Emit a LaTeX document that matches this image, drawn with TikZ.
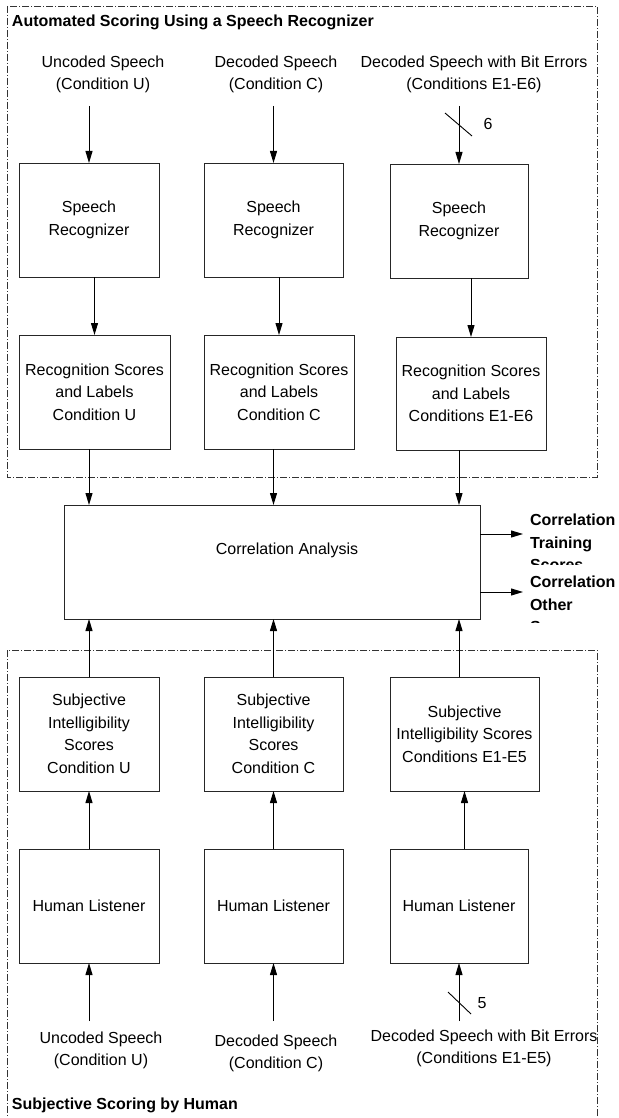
\documentclass[tikz,border=0pt]{standalone}
\usepackage{fontspec}
\setmainfont{Liberation Sans}
\usetikzlibrary{arrows.meta}
\begin{document}
\begin{tikzpicture}[x=1pt,y=-1pt,
  every node/.style={font=\fontsize{16}{22.5}\selectfont, inner sep=0pt, outer sep=0pt},
  blk/.style={draw=black!85, line width=0.9pt, align=center, minimum height=114pt},
  arr/.style={line width=1pt, -{Triangle[length=12pt,width=7pt]}},
  tick/.style={line width=0.9pt},
  dashbox/.style={draw=black!80, line width=0.6pt, dash pattern=on 7pt off 2pt on 1pt off 2pt},
  lbl/.style={align=center},
  ttl/.style={font=\fontsize{16}{20}\selectfont\bfseries, anchor=west},
  outlbl/.style={font=\fontsize{16}{22.5}\selectfont\bfseries, anchor=north west, align=left},
]
\clip (0,0) rectangle (618,1118);
\fill[white] (0,0) rectangle (618,1118);

% group frames
\draw[dashbox] (7,6) rectangle (597,477);
\draw[dashbox] (7,650) rectangle (597,1140);

\node[ttl] (t1) at (12,22) {Automated Scoring Using a Speech Recognizer};
\node[ttl] (t2) at (12,1105) {Subjective Scoring by Human};

% inputs (top)
\node[lbl] (in1) at (103,74.5) {Uncoded Speech\\(Condition U)};
\node[lbl] (in2) at (276,74.5) {Decoded Speech\\(Condition C)};
\node[lbl] (in3) at (474,74.5) {Decoded Speech with Bit Errors\\(Conditions E1-E6)};

% speech recognizers
\node[blk, minimum width=140pt] (sr1) at (89,220) {Speech\\Recognizer};
\node[blk, minimum width=139pt] (sr2) at (273.5,220) {Speech\\Recognizer};
\node[blk, minimum width=138pt] (sr3) at (459,221) {Speech\\Recognizer};

% recognition scores
\node[blk, minimum width=151pt] (rec1) at (94.5,392) {Recognition Scores\\and Labels\\Condition U};
\node[blk, minimum width=150pt] (rec2) at (279,392) {Recognition Scores\\and Labels\\Condition C};
\node[blk, minimum width=150pt, minimum height=113pt] (rec3) at (471,393.5) {Recognition Scores\\and Labels\\Conditions E1-E6};

% correlation analysis
\node[blk, minimum width=416pt] (corr) at (272,562) {};
\node (corrtxt) at (287,550) {Correlation Analysis};

% subjective scores
\node[blk, minimum width=140pt] (subj1) at (89,734) {Subjective\\Intelligibility\\Scores\\Condition U};
\node[blk, minimum width=139pt] (subj2) at (273.5,734) {Subjective\\Intelligibility\\Scores\\Condition C};
\node[blk, minimum width=149pt] (subj3) at (464.5,734) {Subjective\\Intelligibility Scores\\Conditions E1-E5};

% human listeners
\node[blk, minimum width=140pt] (hum1) at (89,906) {Human Listener};
\node[blk, minimum width=139pt] (hum2) at (273.5,906) {Human Listener};
\node[blk, minimum width=138pt] (hum3) at (459,906) {Human Listener};

% inputs (bottom)
\node[lbl] (bin1) at (101,1050.5) {Uncoded Speech\\(Condition U)};
\node[lbl] (bin2) at (276,1053.5) {Decoded Speech\\(Condition C)};
\node[lbl] (bin3) at (484,1048.5) {Decoded Speech with Bit Errors\\(Conditions E1-E5)};

% top input arrows
\coordinate (s1) at (89,106);
\coordinate (s2) at (273.5,106);
\coordinate (s3) at (459,106);
\draw[arr] (s1) -- (sr1.north);
\draw[arr] (s2) -- (sr2.north);
\draw[arr] (s3) -- (sr3.north);
\coordinate (k6a) at (445,113);
\coordinate (k6b) at (472,136);
\draw[tick] (k6a) -- (k6b);
\node (n6) at (488,124) {6};

% recognizer -> scores
\draw[arr] (rec1.north |- sr1.south) -- (rec1.north);
\draw[arr] (rec2.north |- sr2.south) -- (rec2.north);
\draw[arr] (rec3.north |- sr3.south) -- (rec3.north);

% scores -> correlation
\draw[arr] (sr1 |- rec1.south) -- (sr1 |- corr.north);
\draw[arr] (sr2 |- rec2.south) -- (sr2 |- corr.north);
\draw[arr] (sr3 |- rec3.south) -- (sr3 |- corr.north);

% subjective -> correlation
\draw[arr] (hum1 |- subj1.north) -- (hum1 |- corr.south);
\draw[arr] (hum2 |- subj2.north) -- (hum2 |- corr.south);
\draw[arr] (hum3 |- subj3.north) -- (hum3 |- corr.south);

% listener -> subjective
\draw[arr] (subj1 |- hum1.north) -- (subj1.south);
\draw[arr] (subj2 |- hum2.north) -- (subj2.south);
\draw[arr] (subj3 |- hum3.north) -- (subj3.south);

% bottom input arrows
\coordinate (b1) at (89,1021);
\coordinate (b2) at (273.5,1021);
\coordinate (b3) at (459,1021);
\draw[arr] (b1) -- (hum1.south);
\draw[arr] (b2) -- (hum2.south);
\draw[arr] (b3) -- (hum3.south);
\coordinate (k5a) at (448,992);
\coordinate (k5b) at (471,1014);
\draw[tick] (k5a) -- (k5b);
\node (n5) at (482,1003) {5};

% outputs
\coordinate (c1) at (523,534);
\coordinate (c2) at (523,592);
\draw[arr] (corr.east |- c1) -- (c1);
\draw[arr] (corr.east |- c2) -- (c2);
\begin{scope}
  \clip (500,500) rectangle (618,564);
  \node[outlbl] (out1) at (530,514) {Correlation\\Training\\Scores};
\end{scope}
\begin{scope}
  \clip (500,575) rectangle (618,622);
  \node[outlbl] (out2) at (530,576) {Correlation\\Other\\Scores};
\end{scope}
\end{tikzpicture}
\end{document}
